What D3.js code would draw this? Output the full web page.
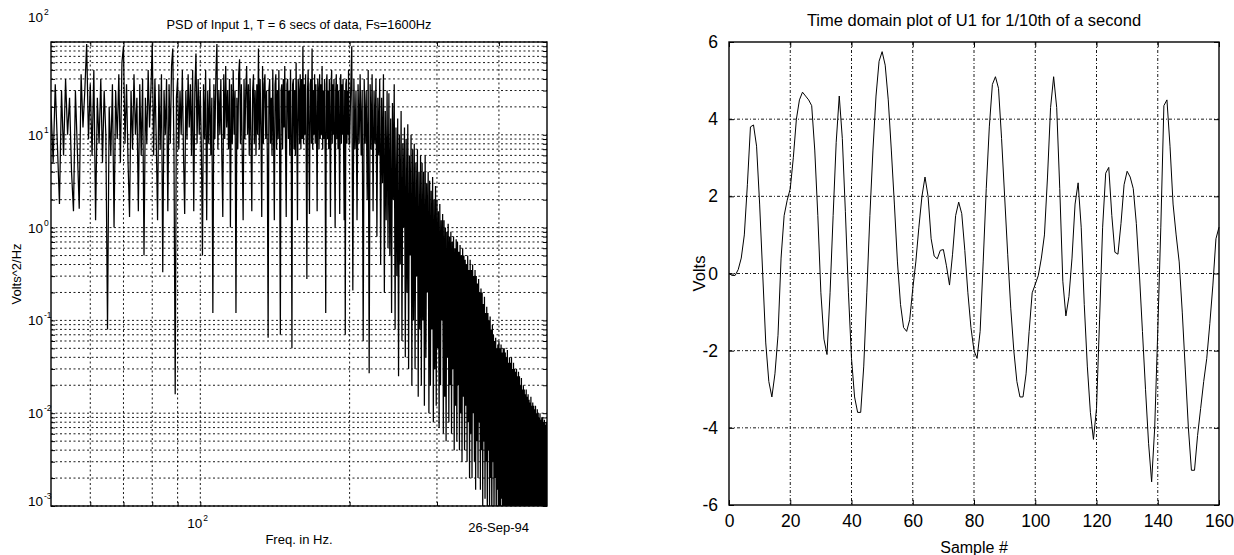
<!DOCTYPE html>
<html><head><meta charset="utf-8">
<script src="https://cdn.jsdelivr.net/npm/d3@7"></script>
<style>
body{margin:0;background:#fff;}
svg{display:block;font-family:"Liberation Sans",Arial,Helvetica,sans-serif;}
</style></head><body>
<svg id="c" width="1234" height="555"></svg>
<script>
// ---------- Left chart: PSD ----------
// 50 .. 199.5 Hz, 0.5 Hz step
const psdLowStartHz = 50, psdLowStepHz = 0.5;
const psdLowValues = [
 20, 5, 35, 8, 1.8, 30, 6, 40, 10, 25,
 4, 1.5, 30, 7, 1.6, 45, 12, 30, 95, 9,
 35, 6, 50, 1.2, 25, 8, 40, 5, 30, 10,
 0.08, 20, 6, 35, 1, 30, 9, 45, 5, 60,
 90, 8, 35, 5, 1.3, 30, 7, 45, 10, 25,
 1.5, 35, 6, 40, 0.5, 25, 8, 50, 12, 30,
 95, 6, 40, 9, 1.2, 35, 7, 45, 0.33, 30,
 10, 40, 1.5, 35, 8, 55, 85, 6, 0.016, 25,
 40, 7, 30, 10, 50, 6, 1.4, 30, 9, 45,
 12, 35, 6, 50, 1.5, 30, 75, 8, 40, 10,
 30, 7, 0.5, 35, 9, 50, 1.2, 30, 8, 40,
 6, 25, 0.12, 35, 9, 45, 95, 7, 30, 10,
 40, 6, 1.3, 45, 9, 55, 12, 30, 7, 40,
 1, 35, 8, 50, 10, 30, 0.12, 25, 7, 45,
 65, 8, 35, 6, 1.2, 40, 9, 30, 55, 10,
 35, 6, 40, 9, 1.5, 30, 45, 8, 30, 6,
 35, 10, 85, 7, 40, 12, 1.3, 55, 8, 35,
 45, 9, 30, 6, 0.065, 30, 40, 8, 25, 6,
 50, 10, 1.2, 35, 45, 7, 30, 9, 50, 8,
 0.07, 30, 35, 7, 40, 12, 55, 8, 1.3, 35,
 40, 9, 30, 6, 50, 10, 0.05, 35, 40, 7,
 30, 6, 60, 12, 1.2, 40, 30, 8, 45, 7,
 40, 9, 90, 8, 35, 10, 45, 6, 0.28, 30,
 50, 9, 1.4, 35, 40, 8, 85, 7, 30, 10,
 45, 8, 35, 12, 1.5, 40, 30, 7, 45, 9,
 35, 10, 55, 7, 30, 9, 40, 6, 0.12, 35,
 45, 9, 30, 7, 40, 10, 1.3, 35, 50, 8,
 35, 10, 40, 6, 1, 30, 45, 9, 35, 7,
 30, 9, 1.4, 40, 45, 8, 35, 10, 40, 7,
 1.2, 30, 0.07, 35, 40, 8, 30, 10, 50, 8
];
// 200 .. 500 Hz, 1 Hz step
const psdHighStartHz = 200, psdHighStepHz = 1;
const psdHighValues = [
 8, 30, 90, 0.21, 40, 7, 30, 1.2, 35, 8,
 45, 6, 30, 0.06, 40, 8, 30, 2, 50, 0.027,
 35, 7, 45, 1.5, 30, 8, 40, 0.8, 25, 6,
 40, 0.4, 25, 3, 45, 0.2, 18, 1.2, 30, 0.6,
 28, 0.5, 15, 0.12, 22, 2, 35, 0.08, 12, 0.3,
 15, 0.025, 10, 0.4, 18, 0.06, 8, 1, 12, 0.04,
 9, 0.2, 13, 0.03, 6, 0.5, 10, 0.02, 7, 0.1,
 8, 0.03, 5, 0.3, 7, 0.015, 4, 0.08, 6, 0.02,
 5, 0.1, 4, 0.012, 6, 0.04, 3, 0.2, 4, 0.01,
 3.2, 0.02, 2.5, 0.08, 3.5, 0.008, 2, 0.03, 2.8, 0.012,
 2, 0.05, 1.5, 0.007, 1.8, 0.02, 1.2, 0.1, 1.4, 0.006,
 1.2, 0.015, 1, 0.005, 0.9, 0.04, 1.1, 0.008, 0.8, 0.02,
 0.9, 0.006, 0.7, 0.03, 0.8, 0.004, 0.6, 0.012, 0.75, 0.005,
 0.7, 0.02, 0.55, 0.004, 0.65, 0.01, 0.5, 0.003, 0.6, 0.015,
 0.5, 0.004, 0.45, 0.012, 0.4, 0.003, 0.5, 0.008, 0.35, 0.002,
 0.45, 0.006, 0.35, 0.002, 0.4, 0.01, 0.3, 0.003, 0.35, 0.0015,
 0.3, 0.005, 0.25, 0.002, 0.28, 0.008, 0.2, 0.0015, 0.22, 0.004,
 0.2, 0.001, 0.15, 0.005, 0.18, 0.0012, 0.12, 0.003, 0.14, 0.0008,
 0.12, 0.004, 0.1, 0.0008, 0.11, 0.002, 0.08, 0.0006, 0.09, 0.003,
 0.07, 0.0007, 0.06, 0.002, 0.065, 0.0005, 0.05, 0.0015, 0.055, 0.0004,
 0.06, 0.001, 0.05, 0.0004, 0.055, 0.0012, 0.045, 0.0003, 0.05, 0.0008,
 0.05, 0.0003, 0.045, 0.0009, 0.04, 0.0003, 0.048, 0.0006, 0.035, 0.0002,
 0.04, 0.0007, 0.035, 0.0002, 0.04, 0.0005, 0.03, 0.0002, 0.035, 0.0006,
 0.03, 0.0002, 0.028, 0.0005, 0.03, 0.0002, 0.025, 0.0004, 0.028, 0.0002,
 0.025, 0.0004, 0.02, 0.0002, 0.024, 0.0003, 0.018, 0.0002, 0.02, 0.0004,
 0.018, 0.0002, 0.016, 0.0003, 0.018, 0.0002, 0.015, 0.0003, 0.016, 0.0002,
 0.014, 0.0002, 0.013, 0.0003, 0.015, 0.0002, 0.012, 0.0002, 0.013, 0.0003,
 0.012, 0.0002, 0.011, 0.0003, 0.012, 0.0002, 0.01, 0.0002, 0.011, 0.0003,
 0.01, 0.0002, 0.009, 0.0003, 0.01, 0.0002, 0.0085, 0.0002, 0.009, 0.0003,
 0.009, 0.0002, 0.008, 0.0003, 0.0085, 0.0002, 0.0075, 0.0002, 0.008, 0.0003,
 0.008
];
const psdXTickVals = [100];
const psdXGridVals = [60, 70, 80, 90, 100, 200, 300, 400];
const psdYDecades = [-3, -2, -1, 0, 1, 2];
const psdTitle = "PSD of Input 1, T = 6 secs of data, Fs=1600Hz";

// ---------- Right chart: time domain ----------
const timeVolts = [
 0.0, -0.05, -0.05, 0.1, 0.4, 1.0, 2.3, 3.8, 3.85, 3.3,
 1.8, 0.0, -1.8, -2.8, -3.2, -2.6, -1.6, 0.4, 1.5, 1.9,
 2.2, 3.0, 4.0, 4.5, 4.7, 4.6, 4.5, 4.35, 3.2, 1.5,
 -0.5, -1.7, -2.1, -0.5, 1.5, 3.4, 4.6, 3.5, 1.6, -0.5,
 -2.2, -3.2, -3.6, -3.6, -2.4, -0.5, 1.5, 3.2, 4.6, 5.5,
 5.75, 5.4, 4.5, 3.2, 1.8, 0.3, -0.8, -1.4, -1.5, -1.2,
 -0.4, 0.3, 1.2, 2.0, 2.5, 2.0, 0.9, 0.45, 0.38, 0.6,
 0.62, 0.2, -0.3, 0.5, 1.5, 1.85, 1.55, 0.6, -0.5, -1.4,
 -2.0, -2.2, -1.5, 0.3, 2.2, 3.8, 4.9, 5.1, 4.8, 3.5,
 2.0, 0.5, -0.9, -2.0, -2.8, -3.2, -3.2, -2.6, -1.5, -0.5,
 -0.28, -0.05, 0.4, 1.0, 2.5, 4.3, 5.1, 4.3, 2.2, -0.2,
 -1.1, -0.6, 0.4, 1.8, 2.35, 1.2, -0.8, -2.4, -3.6, -4.3,
 -3.5, -1.2, 1.2, 2.6, 2.75, 1.5, 0.55, 0.5, 1.3, 2.3,
 2.65, 2.5, 2.2, 1.3, 0.0, -1.5, -3.0, -4.4, -5.4, -4.0,
 -1.5, 1.2, 4.35, 4.5, 3.3, 1.8, 1.0, 0.3, -1.0, -2.5,
 -4.0, -5.1, -5.1, -4.2, -3.5, -2.8, -2.2, -1.3, -0.3, 0.9,
 1.2
];
const timeXTicks = [0, 20, 40, 60, 80, 100, 120, 140, 160];
const timeYTicks = [-6, -4, -2, 0, 2, 4, 6];
const timeTitle = "Time domain plot of U1 for 1/10th of a second";

const svg = d3.select("#c");
const GRID_DASH = "2,2.5";

// ===== Left chart =====
(function(){
  const L = {x0: 51, x1: 547, y0: 42, y1: 506};
  const x = d3.scaleLog().domain([50, 500]).range([L.x0, L.x1]);
  const y = d3.scaleLog().domain([1e-3, 1e2]).range([L.y1, L.y0]);
  const g = svg.append("g");
  g.append("clipPath").attr("id", "clipL").append("rect")
    .attr("x", L.x0).attr("y", L.y0).attr("width", L.x1 - L.x0).attr("height", L.y1 - L.y0);

  const yGrid = [];
  psdYDecades.forEach(d => { for (let m = 1; m <= 9; m++) { const v = m * Math.pow(10, d); if (v <= 100.0001) yGrid.push(v); } });
  g.selectAll(".hg").data(yGrid).join("line")
    .attr("x1", L.x0).attr("x2", L.x1).attr("y1", d => y(d)).attr("y2", d => y(d))
    .attr("stroke", "#000").attr("stroke-width", 0.9).attr("stroke-dasharray", GRID_DASH);
  g.selectAll(".vg").data(psdXGridVals).join("line")
    .attr("x1", d => x(d)).attr("x2", d => x(d)).attr("y1", L.y0).attr("y2", L.y1)
    .attr("stroke", "#000").attr("stroke-width", 0.9).attr("stroke-dasharray", GRID_DASH);

  const pts = psdLowValues.map((v, i) => [psdLowStartHz + i * psdLowStepHz, v])
    .concat(psdHighValues.map((v, i) => [psdHighStartHz + i * psdHighStepHz, v]));
  const line = d3.line().x(d => x(d[0])).y(d => y(d[1]));
  g.append("path").attr("d", line(pts)).attr("fill", "none").attr("stroke", "#000")
    .attr("stroke-width", 1.25).attr("clip-path", "url(#clipL)");

  const ax = g.append("g");
  ax.append("g").attr("transform", `translate(0,${L.y1})`)
    .call(d3.axisBottom(x).tickValues(psdXGridVals).tickSize(-4).tickFormat(""));
  ax.append("g").attr("transform", `translate(0,${L.y0})`)
    .call(d3.axisTop(x).tickValues(psdXGridVals).tickSize(-4).tickFormat(""));
  ax.append("g").attr("transform", `translate(${L.x0},0)`)
    .call(d3.axisLeft(y).tickValues(yGrid).tickSize(-4).tickFormat(""));
  ax.append("g").attr("transform", `translate(${L.x1},0)`)
    .call(d3.axisRight(y).tickValues(yGrid).tickSize(-4).tickFormat(""));
  ax.selectAll(".domain").remove();
  ax.selectAll("line").attr("stroke", "#000");
  g.append("rect").attr("x", L.x0).attr("y", L.y0).attr("width", L.x1 - L.x0).attr("height", L.y1 - L.y0)
    .attr("fill", "none").attr("stroke", "#000").attr("stroke-width", 1.4);

  psdYDecades.forEach(d => {
    let yy = y(Math.pow(10, d)) + 5;
    if (d === 2) yy = 22;
    if (d === -3) yy = 506;
    g.append("text").attr("x", 43).attr("y", yy).attr("text-anchor", "end")
      .attr("font-size", 13.5).attr("fill", "#000").text("10");
    g.append("text").attr("x", 44).attr("y", yy - 7).attr("font-size", 8.5).attr("fill", "#000").text(d);
  });
  psdXTickVals.forEach(v => {
    g.append("text").attr("x", x(v) + 2).attr("y", 528).attr("text-anchor", "end")
      .attr("font-size", 13.5).attr("fill", "#000").text("10");
    g.append("text").attr("x", x(v) + 3).attr("y", 521).attr("font-size", 8.5).attr("fill", "#000").text(Math.log10(v));
  });
  g.append("text").attr("x", 529).attr("y", 532).attr("text-anchor", "end")
    .attr("font-size", 13).attr("fill", "#000").text("26-Sep-94");
  g.append("text").attr("x", (L.x0 + L.x1) / 2).attr("y", 544).attr("text-anchor", "middle")
    .attr("font-size", 13).attr("fill", "#000").text("Freq. in Hz.");
  g.append("text").attr("transform", `translate(21,${(L.y0 + L.y1) / 2}) rotate(-90)`)
    .attr("text-anchor", "middle").attr("font-size", 13).attr("fill", "#000").text("Volts^2/Hz");
  g.append("text").attr("x", (L.x0 + L.x1) / 2).attr("y", 29).attr("text-anchor", "middle")
    .attr("font-size", 12.8).attr("fill", "#000").text(psdTitle);
})();

// ===== Right chart =====
(function(){
  const R = {x0: 729, x1: 1219, y0: 42, y1: 505};
  const x = d3.scaleLinear().domain([0, 160]).range([R.x0, R.x1]);
  const y = d3.scaleLinear().domain([-6, 6]).range([R.y1, R.y0]);
  const g = svg.append("g");
  g.selectAll(".hg").data(timeYTicks.slice(1, -1)).join("line")
    .attr("x1", R.x0).attr("x2", R.x1).attr("y1", d => y(d)).attr("y2", d => y(d))
    .attr("stroke", "#000").attr("stroke-width", 0.9).attr("stroke-dasharray", "3,2,1,2");
  g.selectAll(".vg").data(timeXTicks.slice(1, -1)).join("line")
    .attr("x1", d => x(d)).attr("x2", d => x(d)).attr("y1", R.y0).attr("y2", R.y1)
    .attr("stroke", "#000").attr("stroke-width", 0.9).attr("stroke-dasharray", "3,2,1,2");
  const line = d3.line().x((d, i) => x(i)).y(d => y(d));
  g.append("path").attr("d", line(timeVolts)).attr("fill", "none").attr("stroke", "#000").attr("stroke-width", 1);

  const ax = g.append("g");
  ax.append("g").attr("transform", `translate(0,${R.y1})`)
    .call(d3.axisBottom(x).tickValues(timeXTicks).tickSize(-5).tickPadding(10).tickFormat(d3.format("d")));
  ax.append("g").attr("transform", `translate(0,${R.y0})`)
    .call(d3.axisTop(x).tickValues(timeXTicks).tickSize(-5).tickFormat(""));
  ax.append("g").attr("transform", `translate(${R.x0},0)`)
    .call(d3.axisLeft(y).tickValues(timeYTicks).tickSize(-5).tickPadding(11).tickFormat(d => d < 0 ? "-" + Math.abs(d) : d));
  ax.append("g").attr("transform", `translate(${R.x1},0)`)
    .call(d3.axisRight(y).tickValues(timeYTicks).tickSize(-5).tickFormat(""));
  ax.selectAll(".domain").remove();
  ax.selectAll("line").attr("stroke", "#000");
  ax.selectAll("text").attr("font-size", 17.5).attr("fill", "#000")
    .attr("font-family", '"Liberation Sans",Arial,sans-serif');
  g.append("rect").attr("x", R.x0).attr("y", R.y0).attr("width", R.x1 - R.x0).attr("height", R.y1 - R.y0)
    .attr("fill", "none").attr("stroke", "#000").attr("stroke-width", 1.4);

  g.append("text").attr("x", (R.x0 + R.x1) / 2).attr("y", 26).attr("text-anchor", "middle")
    .attr("font-size", 16.5).attr("fill", "#000").text(timeTitle);
  g.append("text").attr("x", (R.x0 + R.x1) / 2).attr("y", 553).attr("text-anchor", "middle")
    .attr("font-size", 16).attr("fill", "#000").text("Sample #");
  g.append("text").attr("transform", `translate(705,${(R.y0 + R.y1) / 2}) rotate(-90)`)
    .attr("text-anchor", "middle").attr("font-size", 16.5).attr("fill", "#000").text("Volts");
})();
</script>
</body></html>
